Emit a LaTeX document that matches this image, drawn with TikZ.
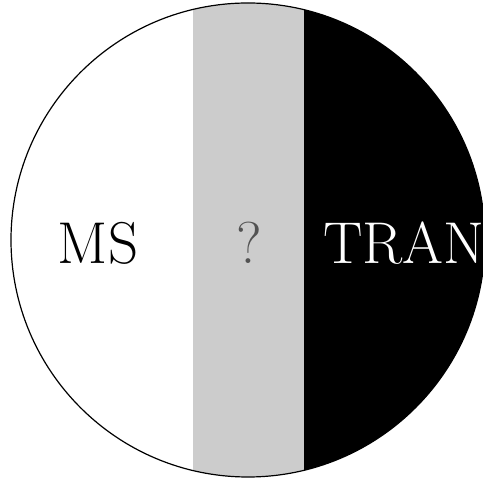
\documentclass[tikz,border=0pt]{standalone}
\usepackage{xcolor}
\usepackage{tikz}
\usetikzlibrary{positioning}

\begin{document}
\begin{tikzpicture}[
    x=1pt, y=1pt,
    label/.style={inner sep=0pt, anchor=base, font=\fontsize{59}{64}\selectfont},
    band/.style={draw=none},
]
\useasboundingbox (0,0) rectangle (483,482);
\coordinate (centre) at (248,242);
\begin{scope}
\clip (centre) circle (237);
\fill[band, black!20] (193,0) rectangle (304,482);
\fill[band, black] (304,0) rectangle (490,482);
\end{scope}
\draw[line width=1.2pt] (centre) circle (237);
\node[label] (ms) at (98,218) {MS};
\node[label, text=black!68] (unknown) at (249,218) {?};
\node[label, anchor=base west, text=white] (tran) at (323,218) {TRAN};
\end{tikzpicture}
\end{document}
